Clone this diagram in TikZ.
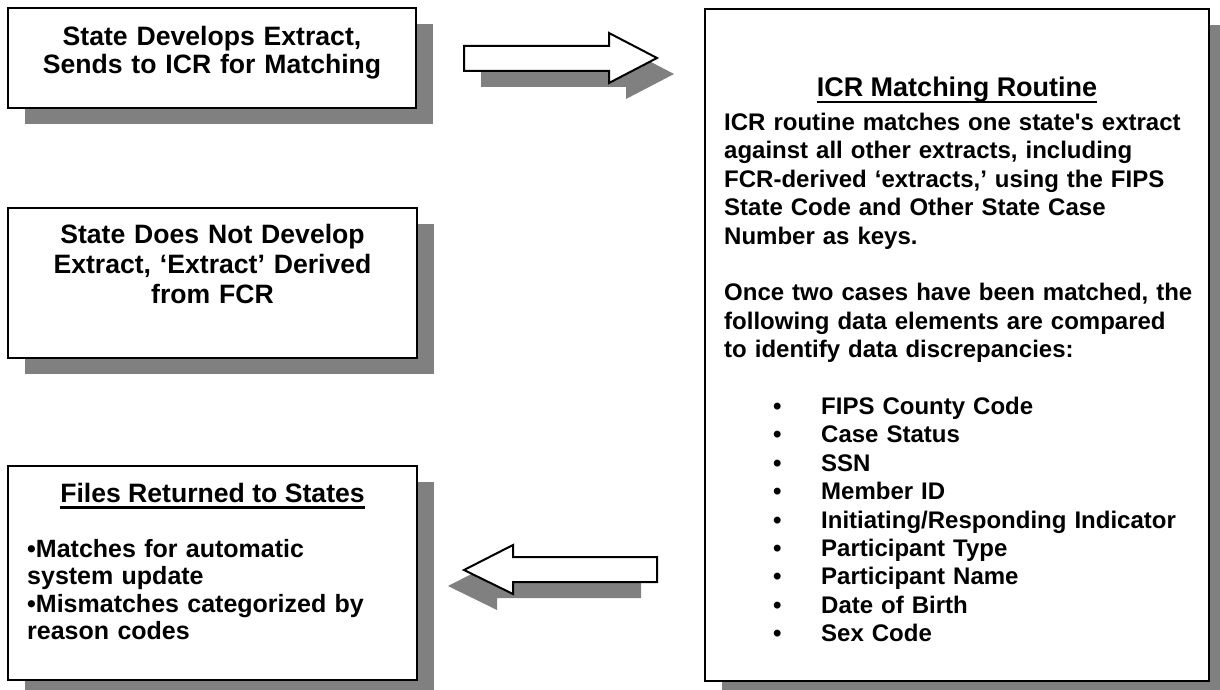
\documentclass[tikz,border=0pt]{standalone}
\usepackage{fontspec}
\setmainfont{Liberation Sans}[Ligatures=TeXOff]
\usetikzlibrary{shadows}
\definecolor{shadowgray}{RGB}{128,128,128}
\newcommand\ulbox[2][6.5pt]{\setbox0\hbox{#2}\rlap{\rule[-#1]{\wd0}{2.4pt}}\box0}
\newcommand\bitem[1]{\hspace*{49pt}\makebox[48pt][l]{•}#1}
\tikzset{
  shadeR/.style={drop shadow={shadow xshift=17pt, shadow yshift=-16pt, fill=shadowgray, opacity=1}},
  shadeL/.style={drop shadow={shadow xshift=-16pt, shadow yshift=-16pt, fill=shadowgray, opacity=1}},
  card/.style={rectangle, draw=black, line width=2pt, fill=white, inner sep=0pt, outer sep=0pt},
  blockarrow/.style={draw=black, line width=2pt, fill=white, line join=miter},
  bigtext/.style={inner sep=0pt, font=\bfseries\fontsize{26.6}{28.5}\selectfont},
  bodytext/.style={inner sep=0pt, font=\bfseries\fontsize{24}{28.4}\selectfont},
}
\begin{document}
\begin{tikzpicture}[x=1pt,y=-1pt]
\useasboundingbox[fill=white] (0,0) rectangle (1220,690);
\clip (0,0) rectangle (1220,690);

% boxes
\node[card, shadeR, minimum width=408pt, minimum height=100pt] (extract) at (212,58) {};
\node[card, shadeR, minimum width=409pt, minimum height=150pt] (fcr) at (212.5,283) {};
\node[card, shadeR, minimum width=409pt, minimum height=214pt] (files) at (212.5,573) {};
\node[card, shadeR, minimum width=504pt, minimum height=672pt] (icr) at (957,345) {};

% block arrows
\draw[blockarrow, shadeR] (464,46) -- (609,46) -- (609,33) -- (657,58) -- (609,83) -- (609,71) -- (464,71) -- cycle;
\draw[blockarrow, shadeL] (657,557) -- (513,557) -- (513,545) -- (464,570) -- (513,594) -- (513,582) -- (657,582) -- cycle;

% texts
\node[bigtext, anchor=north, text width=400pt, align=center] (extract-t) at (212,25.05)
  {\strut State Develops Extract,\\Sends to ICR for Matching};
\node[bigtext, font=\bfseries\fontsize{26.6}{30}\selectfont, anchor=north, text width=400pt, align=center] (fcr-t) at (212.5,222)
  {\strut State Does Not Develop\\Extract, ‘Extract’ Derived\\from FCR};
\node[bigtext, anchor=base] (files-title) at (212.5,502) {\ulbox{Files Returned to States}};
\node[bodytext, font=\bfseries\fontsize{25}{27.5}\selectfont, anchor=north west, text width=385pt, align=left] (files-t) at (27,537.75)
  {\strut •Matches for automatic\\system update\\•Mismatches categorized by\\reason codes};

\node[inner sep=0pt, font=\bfseries\fontsize{27}{30}\selectfont, anchor=base] (icr-title) at (957,97) {\ulbox{ICR Matching Routine}};
\node[bodytext, anchor=north west, text width=480pt, align=left] (icr-t) at (724,110.5)
  {\strut ICR routine matches one state's extract\\
   against all other extracts, including\\
   FCR-derived ‘extracts,’ using the FIPS\\
   State Code and Other State Case\\
   Number as keys.\\[28.4pt]
   Once two cases have been matched, the\\
   following data elements are compared\\
   to identify data discrepancies:\\[28.4pt]
   \bitem{FIPS County Code}\\
   \bitem{Case Status}\\
   \bitem{SSN}\\
   \bitem{Member ID}\\
   \bitem{Initiating/Responding Indicator}\\
   \bitem{Participant Type}\\
   \bitem{Participant Name}\\
   \bitem{Date of Birth}\\
   \bitem{Sex Code}};
\end{tikzpicture}
\end{document}
